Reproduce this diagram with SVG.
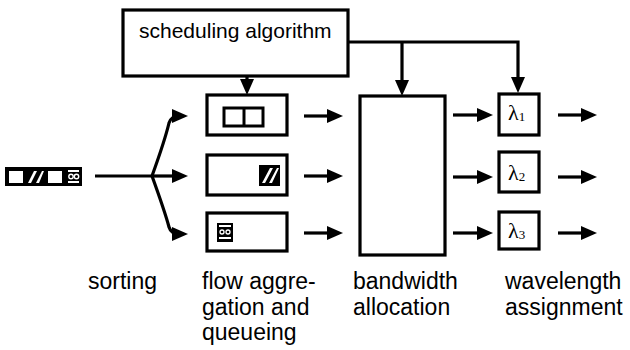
<svg xmlns="http://www.w3.org/2000/svg" width="630" height="350" viewBox="0 0 630 350">
<style>
.box{fill:#fff;stroke:#000;stroke-width:3.2}
.ln{fill:none;stroke:#000;stroke-width:3.2}
.lbl{font-family:"Liberation Sans",Arial,sans-serif;font-size:23px;fill:#000}
.lam{font-family:"Liberation Serif","Times New Roman",serif;font-size:22px;fill:#000}
</style>
<defs>
<marker id="ah" markerUnits="userSpaceOnUse" markerWidth="16" markerHeight="14" refX="8" refY="7" orient="auto">
<path d="M0,0 L16,7 L0,14 Z" fill="#000"/>
</marker>
</defs>
<rect width="630" height="350" fill="#fff"/>

<g id="connectors">
<path class="ln" d="M95,176 H152"/>
<path class="ln" d="M152,176 H180" marker-end="url(#ah)"/>
<path class="ln" d="M152,176 Q165,140 169,123 Q171,116 180,116" marker-end="url(#ah)"/>
<path class="ln" d="M152,176 Q165,212 169,227 Q171,234 180,234" marker-end="url(#ah)"/>
<path class="ln" d="M247,76 V87" marker-end="url(#ah)"/>
<path class="ln" d="M348,42 H518 V85" marker-end="url(#ah)"/>
<path class="ln" d="M402,42 V88" marker-end="url(#ah)"/>
<path class="ln" d="M304,116 H335" marker-end="url(#ah)"/>
<path class="ln" d="M304,176 H335" marker-end="url(#ah)"/>
<path class="ln" d="M304,233 H335" marker-end="url(#ah)"/>
<path class="ln" d="M453,115 H485" marker-end="url(#ah)"/>
<path class="ln" d="M453,177 H485" marker-end="url(#ah)"/>
<path class="ln" d="M453,233 H485" marker-end="url(#ah)"/>
<path class="ln" d="M558,115 H589" marker-end="url(#ah)"/>
<path class="ln" d="M558,177 H589" marker-end="url(#ah)"/>
<path class="ln" d="M558,233 H589" marker-end="url(#ah)"/>
</g>

<g id="scheduling">
<rect class="box" x="123" y="10" width="225" height="66"/>
<text class="lbl" x="139" y="38" style="font-size:21px">scheduling algorithm</text>
</g>

<g id="input">
<rect x="5" y="167" width="77" height="19" fill="#000"/>
<rect x="9" y="171" width="14" height="12" fill="#fff"/>
<polygon points="28,183 34,171 37,171 31,183" fill="#fff"/>
<polygon points="36,183 42,171 44,171 39,183" fill="#fff"/>
<rect x="48" y="171" width="14" height="12" fill="#fff"/>
<rect x="68" y="170" width="11" height="2" fill="#fff"/>
<circle cx="71" cy="176.5" r="2.2" fill="none" stroke="#fff" stroke-width="1.4"/>
<circle cx="76.5" cy="176.5" r="2.2" fill="none" stroke="#fff" stroke-width="1.4"/>
<rect x="68" y="181" width="11" height="2" fill="#fff"/>
</g>

<g id="queue1">
<rect class="box" x="207" y="95" width="80" height="40"/>
<rect x="224" y="108" width="39" height="18" fill="#fff" stroke="#000" stroke-width="3"/>
<line x1="244" y1="108" x2="244" y2="126" stroke="#000" stroke-width="3"/>
</g>

<g id="queue2">
<rect class="box" x="207" y="155" width="80" height="40"/>
<rect x="259" y="165" width="21" height="21" fill="#000"/>
<polygon points="262,183 270,168 273,168 265,183" fill="#fff"/>
<polygon points="269,183 277,168 279,168 272,183" fill="#fff"/>
</g>

<g id="queue3">
<rect class="box" x="207" y="213" width="80" height="38"/>
<rect x="217" y="223" width="16" height="19" fill="#000"/>
<rect x="219" y="225" width="12" height="2" fill="#fff"/>
<circle cx="222" cy="232" r="2" fill="none" stroke="#fff" stroke-width="1.3"/>
<circle cx="228" cy="232" r="2" fill="none" stroke="#fff" stroke-width="1.3"/>
<rect x="219" y="237" width="12" height="2" fill="#fff"/>
</g>

<g id="bandwidth">
<rect class="box" x="360" y="96" width="85" height="159"/>
</g>

<g id="lambda1">
<rect class="box" x="499" y="94" width="40" height="41"/>
<text class="lam" x="508" y="120">λ<tspan font-size="13" dy="1">1</tspan></text>
</g>
<g id="lambda2">
<rect class="box" x="499" y="152" width="40" height="40"/>
<text class="lam" x="508" y="180">λ<tspan font-size="13" dy="1">2</tspan></text>
</g>
<g id="lambda3">
<rect class="box" x="499" y="212" width="40" height="37"/>
<text class="lam" x="508" y="238">λ<tspan font-size="13" dy="1">3</tspan></text>
</g>

<g id="labels">
<text class="lbl" x="88" y="289">sorting</text>
<text class="lbl" x="202" y="289">flow aggre-</text>
<text class="lbl" x="202" y="315">gation and</text>
<text class="lbl" x="202" y="340">queueing</text>
<text class="lbl" x="353" y="289">bandwidth</text>
<text class="lbl" x="353" y="315">allocation</text>
<text class="lbl" x="505" y="289">wavelength</text>
<text class="lbl" x="505" y="315">assignment</text>
</g>
</svg>
